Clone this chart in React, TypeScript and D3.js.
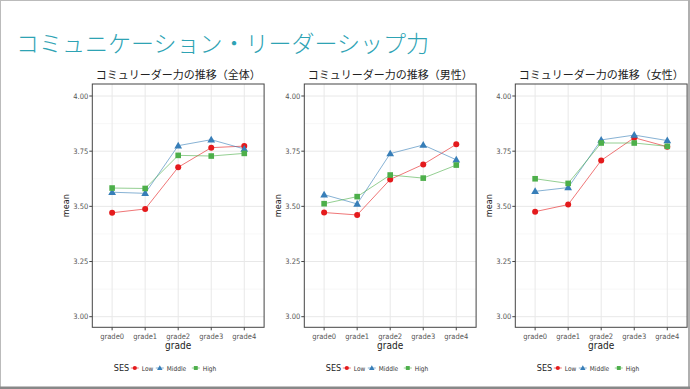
import React from "react";
import * as d3 from "d3";

const grades = ["grade0", "grade1", "grade2", "grade3", "grade4"];
const sesLevels = ["Low", "Middle", "High"];
const yTicks = [3.0, 3.25, 3.5, 3.75, 4.0];
const yMinor = [3.125, 3.375, 3.625, 3.875];

const mainTitle = "コミュニケーション・リーダーシップ力";
const panelTitles = [
  "コミュリーダー力の推移（全体）",
  "コミュリーダー力の推移（男性）",
  "コミュリーダー力の推移（女性）",
];

// values per panel: [Low, Middle, High]
const allLow = [3.471, 3.488, 3.677, 3.766, 3.773];
const allMiddle = [3.564, 3.559, 3.775, 3.802, 3.76];
const allHigh = [3.583, 3.581, 3.731, 3.728, 3.74];

const maleLow = [3.472, 3.461, 3.622, 3.69, 3.781];
const maleMiddle = [3.553, 3.511, 3.739, 3.778, 3.711];
const maleHigh = [3.512, 3.544, 3.642, 3.628, 3.687];

const femaleLow = [3.476, 3.508, 3.708, 3.811, 3.77];
const femaleMiddle = [3.568, 3.585, 3.801, 3.823, 3.798];
const femaleHigh = [3.625, 3.604, 3.787, 3.787, 3.772];

const panelData = [
  [allLow, allMiddle, allHigh],
  [maleLow, maleMiddle, maleHigh],
  [femaleLow, femaleMiddle, femaleHigh],
];

const colors = ["#e41a1c", "#377eb8", "#4daf4a"];
const panelLefts = [92.3, 304.3, 515.3];
const panelWidth = 171.8;
const plotTop = 84;
const plotBottom = 327.3;
const condensed = "'DejaVu Sans Condensed', 'DejaVu Sans', sans-serif";
const jp = "'Noto Sans CJK JP', sans-serif";

function Marker({ kind, x, y, color, s = 1 }: { kind: number; x: number; y: number; color: string; s?: number }) {
  if (kind === 0) return <circle cx={x} cy={y} r={3 * s} fill={color} />;
  if (kind === 1) {
    const p = d3.symbol().type(d3.symbolTriangle).size(26 * s * s)();
    return <path d={p || ""} transform={`translate(${x},${y + 0.5 * s})`} fill={color} />;
  }
  return <rect x={x - 2.8 * s} y={y - 2.8 * s} width={5.6 * s} height={5.6 * s} fill={color} />;
}

function Panel({ idx }: { idx: number }) {
  const left = panelLefts[idx];
  const right = left + panelWidth;
  const x = d3.scalePoint<string>().domain(grades).range([left, right]).padding(0.6);
  const y = d3.scaleLinear().domain([3, 4]).range([316.7, 96]);
  const series = panelData[idx];
  const line = d3
    .line<number>()
    .x((_, i) => x(grades[i]) as number)
    .y((d) => y(d));
  const cx = (left + right) / 2;
  return (
    <g>
      <rect x={left} y={plotTop} width={panelWidth} height={plotBottom - plotTop} fill="#fff" />
      {yMinor.map((t) => (
        <line key={"m" + t} x1={left} x2={right} y1={y(t)} y2={y(t)} stroke="#f4f4f4" strokeWidth={0.6} />
      ))}
      {yTicks.map((t) => (
        <line key={"g" + t} x1={left} x2={right} y1={y(t)} y2={y(t)} stroke="#e8e8e8" strokeWidth={1} />
      ))}
      {grades.map((g) => (
        <line key={"gx" + g} x1={x(g)} x2={x(g)} y1={plotTop} y2={plotBottom} stroke="#e8e8e8" strokeWidth={1} />
      ))}
      {series.map((vals, si) => (
        <path key={"l" + si} d={line(vals) || ""} fill="none" stroke={colors[si]} strokeOpacity={0.6} strokeWidth={1} />
      ))}
      {series.map((vals, si) =>
        vals.map((v, i) => <Marker key={si + "-" + i} kind={si} x={x(grades[i]) as number} y={y(v)} color={colors[si]} />)
      )}
      <rect x={left} y={plotTop} width={panelWidth} height={plotBottom - plotTop} fill="none" stroke="#444" strokeWidth={1} />
      {yTicks.map((t) => (
        <g key={"yt" + t}>
          <line x1={left - 3} x2={left} y1={y(t)} y2={y(t)} stroke="#444" />
          <text x={left - 4} y={y(t) + 2.7} fontSize={7.5} fill="#555" textAnchor="end" fontFamily={condensed}>
            {t.toFixed(2)}
          </text>
        </g>
      ))}
      {grades.map((g) => (
        <g key={"xt" + g}>
          <line x1={x(g)} x2={x(g)} y1={plotBottom} y2={plotBottom + 3} stroke="#444" />
          <text x={x(g)} y={338.5} fontSize={7.5} fill="#555" textAnchor="middle" fontFamily={condensed}>
            {g}
          </text>
        </g>
      ))}
      <text x={cx} y={348.5} fontSize={10} fill="#222" textAnchor="middle" fontFamily={condensed}>
        grade
      </text>
      <text
        transform={`translate(${left - 23},${(plotTop + plotBottom) / 2}) rotate(-90)`}
        fontSize={9}
        fill="#222"
        textAnchor="middle"
        fontFamily={condensed}
      >
        mean
      </text>
      <text x={cx} y={79} fontSize={11} fill="#222" textAnchor="middle" fontFamily={jp}>
        {panelTitles[idx]}
      </text>
      {/* legend */}
      <g transform={`translate(${left + 21.5},368)`}>
        <text x={0} y={3.3} fontSize={9} fill="#222" fontFamily={condensed}>SES</text>
        {sesLevels.map((lv, i) => {
          const off = [21, 46, 82][i];
          return (
            <g key={lv}>
              <line x1={off - 4} x2={off + 4} y1={0} y2={0} stroke={colors[i]} strokeOpacity={0.6} />
              <Marker kind={i} x={off} y={0} color={colors[i]} s={0.7} />
              <text x={off + 7} y={2.5} fontSize={6.5} fill="#333" fontFamily={condensed}>
                {lv}
              </text>
            </g>
          );
        })}
      </g>
    </g>
  );
}

export default function App() {
  return (
    <svg width={690} height={389} style={{ position: "absolute", left: 0, top: 0, background: "#fff" }}>
      <rect x={0} y={0} width={690} height={389} fill="#fff" />
      <line x1={0} x2={690} y1={0.5} y2={0.5} stroke="#bbb" />
      <line x1={0.5} x2={0.5} y1={0} y2={389} stroke="#bbb" />
      <rect x={688} y={0} width={2} height={389} fill="#b0b0b0" />
      <rect x={0} y={386.5} width={690} height={3} fill="#888" />
      <text x={16} y={52} fontSize={23} fill="#2ea3b4" fontFamily={jp} fontWeight={300}>
        {mainTitle}
      </text>
      {[0, 1, 2].map((i) => (
        <Panel key={i} idx={i} />
      ))}
    </svg>
  );
}
